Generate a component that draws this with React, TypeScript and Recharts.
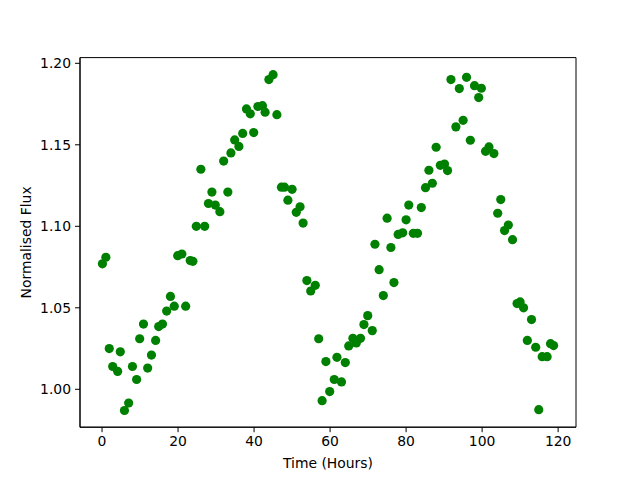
import React from 'react';
import {
  ScatterChart,
  Scatter,
  XAxis,
  YAxis,
  ReferenceArea,
} from 'recharts';

const hours = [
  0.1, 1.0, 1.9, 2.8, 4.1, 4.8, 5.9, 7.0, 8.0, 9.1,
  9.9, 10.9, 12.0, 13.0, 14.1, 14.9, 15.9, 17.0, 18.0, 19.0,
  19.9, 21.0, 22.0, 23.2, 23.9, 24.8, 26.0, 27.0, 28.0, 28.9,
  29.8, 31.0, 32.0, 33.1, 33.9, 34.9, 36.0, 37.0, 38.0, 39.0,
  39.9, 41.0, 42.2, 42.9, 43.9, 45.0, 46.0, 47.2, 48.0, 48.9,
  50.0, 51.1, 52.1, 52.9, 53.9, 54.9, 56.1, 57.0, 57.9, 58.9,
  59.9, 61.1, 61.8, 63.0, 64.0, 64.9, 66.0, 66.9, 68.0, 68.9,
  69.9, 71.1, 71.8, 72.9, 74.0, 75.0, 76.0, 76.8, 77.9, 79.1,
  80.0, 80.7, 81.9, 83.0, 84.0, 85.1, 86.0, 86.9, 87.9, 89.0,
  90.1, 90.9, 91.8, 93.1, 94.0, 95.0, 95.9, 96.9, 98.0, 99.1,
  99.8, 100.9, 101.8, 103.1, 104.1, 104.9, 105.9, 106.9, 108.0, 109.2,
  110.0, 110.9, 111.9, 113.0, 114.1, 114.9, 115.8, 117.1, 118.0, 118.8,
];

const flux = [
  1.077, 1.081, 1.025, 1.014, 1.011, 1.023, 0.987, 0.9916, 1.014, 1.006,
  1.031, 1.04, 1.013, 1.021, 1.03, 1.0385, 1.04, 1.048, 1.057, 1.051,
  1.082, 1.083, 1.051, 1.079, 1.0785, 1.1, 1.135, 1.1, 1.114, 1.121,
  1.113, 1.109, 1.14, 1.121, 1.145, 1.153, 1.149, 1.157, 1.172, 1.169,
  1.1575, 1.1735, 1.174, 1.17, 1.19, 1.193, 1.1685, 1.124, 1.124, 1.116,
  1.1227, 1.1086, 1.112, 1.102, 1.0667, 1.0603, 1.0638, 1.031, 0.993, 1.017,
  0.9986, 1.006, 1.0196, 1.0045, 1.0164, 1.0266, 1.0313, 1.0284, 1.0313, 1.0397,
  1.0452, 1.036, 1.089, 1.0734, 1.0575, 1.105, 1.087, 1.0655, 1.095, 1.096,
  1.104, 1.113, 1.0957, 1.0957, 1.1115, 1.1237, 1.1344, 1.1264, 1.1485, 1.1374,
  1.1382, 1.1342, 1.19, 1.161, 1.1845, 1.165, 1.1914, 1.1528, 1.1863, 1.179,
  1.1847, 1.146, 1.1487, 1.1446, 1.108, 1.1164, 1.0974, 1.1008, 1.0918, 1.0526,
  1.0536, 1.05, 1.03, 1.0428, 1.0258, 0.9875, 1.02, 1.02, 1.028, 1.0268,
];

const xTicks = [0, 20, 40, 60, 80, 100, 120];
const yTicks = [1.0, 1.05, 1.1, 1.15, 1.2];

const X_DOMAIN: [number, number] = [-5.8, 124.7];
const Y_DOMAIN: [number, number] = [0.97675, 1.2035];

const data = hours.map((t, i) => ({ time: t, flux: flux[i] }));

const font = 'DejaVu Sans, sans-serif';
const tickStyle = { fill: '#000', fontSize: 13.9, fontFamily: font };

const Dot = (props: any) => {
  const { cx, cy } = props;
  if (cx == null || cy == null) return null;
  return <circle cx={cx} cy={cy} r={4.6} fill="#008000" />;
};

export default function App() {
  return (
    <div style={{ position: 'absolute', left: 0, top: 0, width: 640, height: 480, background: '#fff' }}>
      <ScatterChart
        width={640}
        height={480}
        margin={{ top: 57.6, right: 64, bottom: 0, left: 0 }}
      >
        <XAxis
          type="number"
          dataKey="time"
          domain={X_DOMAIN}
          ticks={xTicks}
          allowDataOverflow
          height={52.8}
          stroke="#000"
          tickSize={5}
          tickMargin={4}
          tick={tickStyle}
          label={{
            value: 'Time (Hours)',
            position: 'insideBottom',
            offset: 12,
            fill: '#000',
            fontSize: 13.9,
            fontFamily: font,
          }}
        />
        <YAxis
          type="number"
          dataKey="flux"
          domain={Y_DOMAIN}
          ticks={yTicks}
          allowDataOverflow
          width={80}
          stroke="#000"
          tickSize={5}
          tickMargin={4}
          tick={tickStyle}
          tickFormatter={(v: number) => v.toFixed(2)}
          label={{
            value: 'Normalised Flux',
            angle: -90,
            position: 'insideLeft',
            offset: 26,
            fill: '#000',
            fontSize: 13.9,
            fontFamily: font,
            style: { textAnchor: 'middle' },
          }}
        />
        <Scatter data={data} shape={<Dot />} isAnimationActive={false} />
        <ReferenceArea
          x1={X_DOMAIN[0]}
          x2={X_DOMAIN[1]}
          y1={Y_DOMAIN[0]}
          y2={Y_DOMAIN[1]}
          fill="none"
          stroke="#000"
          strokeWidth={1}
          ifOverflow="extendDomain"
        />
      </ScatterChart>
    </div>
  );
}
